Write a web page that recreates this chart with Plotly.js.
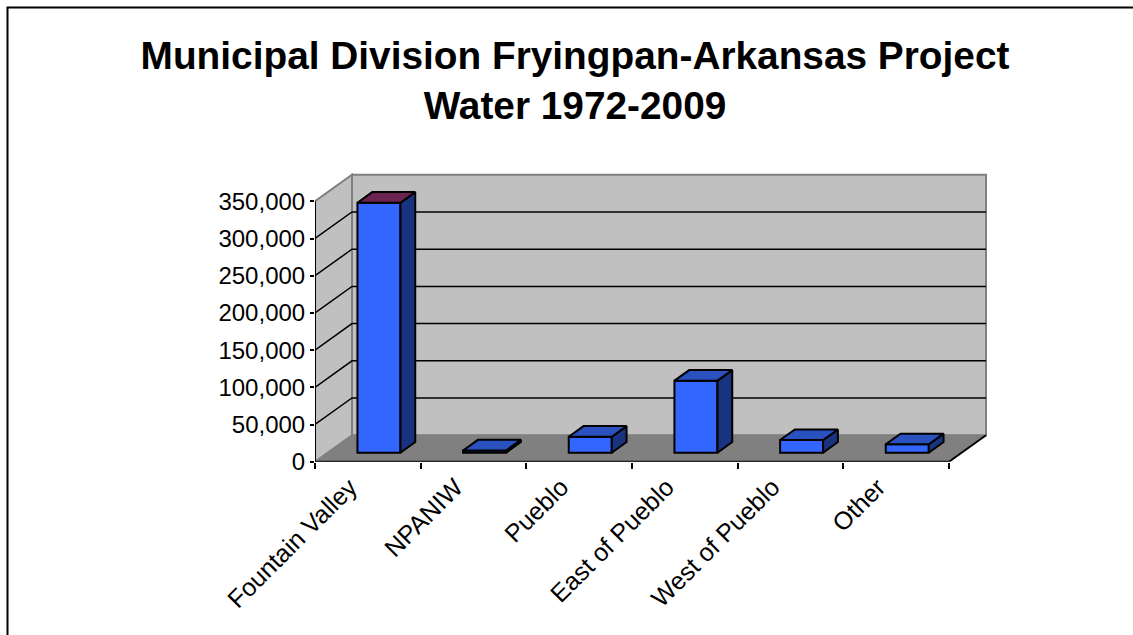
<!DOCTYPE html>
<html>
<head>
<meta charset="utf-8">
<script src="https://cdn.plot.ly/plotly-3.0.1.min.js"></script>
<style>html,body{margin:0;padding:0;background:#fff}#chart{width:1133px;height:635px}</style>
</head>
<body>
<div id="chart"></div>
<script>
var categories = ['Fountain Valley','NPANIW','Pueblo','East of Pueblo','West of Pueblo','Other'];
var values = [336000, 3000, 21500, 96800, 17000, 11300];
var topColors = ['#6B2350','#2952BE','#2952BE','#2952BE','#2952BE','#2952BE'];
var yTicks = [0,50000,100000,150000,200000,250000,300000,350000];
var yTickText = ['0','50,000','100,000','150,000','200,000','250,000','300,000','350,000'];
var titleText = 'Municipal Division Fryingpan-Arkansas Project<br>Water 1972-2009';

// depth of the pseudo-3D box, in axis units
var pxX = 105.67, pxY = 37.2/50000;
var depthX = 37/pxX, depthY = 26.5/pxY;
var padX = 3/pxX, padY = 3/pxY;   // room so wall edges are not clipped
var barStartX = 0.30, barStartY = 0.34, barDepth = 0.40, barWidth = 0.407;
var labelShift = 18/pxX;
var n = categories.length;
var maxV = yTicks[yTicks.length-1];
var centers = categories.map(function(c,i){return i+0.5;});
var bounds = [0,1,2,3,4,5,6];

var x0 = barStartX*depthX, y0 = barStartY*depthY;
var ox = barDepth*depthX, oy = barDepth*depthY;

function path(pts){
  return 'M'+pts.map(function(p){return p[0]+','+p[1];}).join('L');
}
var shapes = [];
// back wall, left wall, floor
shapes.push({type:'path',layer:'below',xref:'x',yref:'y',fillcolor:'#C0C0C0',line:{color:'#808080',width:2},
  path:path([[depthX,depthY],[depthX,maxV+depthY],[n+depthX,maxV+depthY],[n+depthX,depthY]])+'Z'});
shapes.push({type:'path',layer:'below',xref:'x',yref:'y',fillcolor:'#C0C0C0',line:{color:'#808080',width:2},
  path:path([[0,0],[0,maxV],[depthX,maxV+depthY],[depthX,depthY]])+'Z'});
shapes.push({type:'path',layer:'below',xref:'x',yref:'y',fillcolor:'#808080',line:{color:'#808080',width:1},
  path:path([[0,0],[n,0],[n+depthX,depthY],[depthX,depthY]])+'Z'});
// gridlines running along the left and the back wall
yTicks.slice(1,-1).forEach(function(v){
  shapes.push({type:'path',layer:'below',xref:'x',yref:'y',line:{color:'#000',width:1.5},
    path:path([[0,v],[depthX,v+depthY],[n+depthX,v+depthY]])});
});
// page frame
shapes.push({type:'path',xref:'paper',yref:'paper',line:{color:'#000',width:2},
  path:path([[7.5/1133,0],[7.5/1133,1-7.5/635],[1,1-7.5/635]])});

var data = [];
// front faces
data.push({type:'bar',x:centers.map(function(c){return c+x0;}),y:values,base:values.map(function(){return y0;}),
  width:barWidth,marker:{color:'#3366FF',line:{color:'#000',width:2}},hoverinfo:'skip',showlegend:false,cliponaxis:false});
// side faces
var sx=[],sy=[];
values.forEach(function(v,i){
  var r=centers[i]+x0+barWidth/2;
  sx.push(r,r+ox,r+ox,r,r,null);
  sy.push(y0,y0+oy,y0+v+oy,y0+v,y0,null);
});
data.push({type:'scatter',mode:'lines',x:sx,y:sy,fill:'toself',fillcolor:'#1A3380',line:{color:'#000',width:2},hoverinfo:'skip',showlegend:false,cliponaxis:false});
// top faces
values.forEach(function(v,i){
  var l=centers[i]+x0-barWidth/2, r=l+barWidth, t=y0+v;
  data.push({type:'scatter',mode:'lines',x:[l,r,r+ox,l+ox,l],y:[t,t,t+oy,t+oy,t],fill:'toself',fillcolor:topColors[i],
    line:{color:'#000',width:2},hoverinfo:'skip',showlegend:false,cliponaxis:false});
});
// axis lines and floor edge
data.push({type:'scatter',mode:'lines',x:[0,0,null,0,n,n+depthX],y:[maxV,0,null,0,0,depthY],line:{color:'#000',width:2},hoverinfo:'skip',showlegend:false,cliponaxis:false});

var layout = {
  width:1133,height:635,margin:{l:0,r:0,t:0,b:0},
  paper_bgcolor:'#fff',plot_bgcolor:'rgba(0,0,0,0)',
  showlegend:false,
  font:{family:'"Liberation Sans", Arial, sans-serif',color:'#000',size:24},
  title:{text:titleText,x:575/1133,xanchor:'center',y:1-68.5/635,yanchor:'top',font:{family:'"Liberation Sans", Arial, sans-serif',size:38.8,color:'#000',weight:700}},
  xaxis:{domain:[315/1133,989/1133],range:[0,n+depthX+padX],type:'linear',showgrid:false,zeroline:false,showline:false,
    tickmode:'array',tickvals:centers.map(function(c){return c-labelShift;}),ticktext:categories,ticks:'',tickangle:-45,tickfont:{size:25},ticklabelstandoff:5,
    minor:{tickmode:'array',tickvals:bounds,ticks:'outside',ticklen:6,tickwidth:2,tickcolor:'#000',showgrid:false}},
  yaxis:{domain:[(635-461.7)/635,(635-171.8)/635],range:[0,maxV+depthY+padY],type:'linear',showgrid:false,zeroline:false,showline:false,
    tickmode:'array',tickvals:yTicks,ticktext:yTickText,ticks:'outside',ticklen:4,tickwidth:2,tickcolor:'#000',tickfont:{size:24}},
  shapes:shapes,
  bargap:0
};
Plotly.newPlot('chart',data,layout,{displayModeBar:false,staticPlot:true});
</script>
</body>
</html>
